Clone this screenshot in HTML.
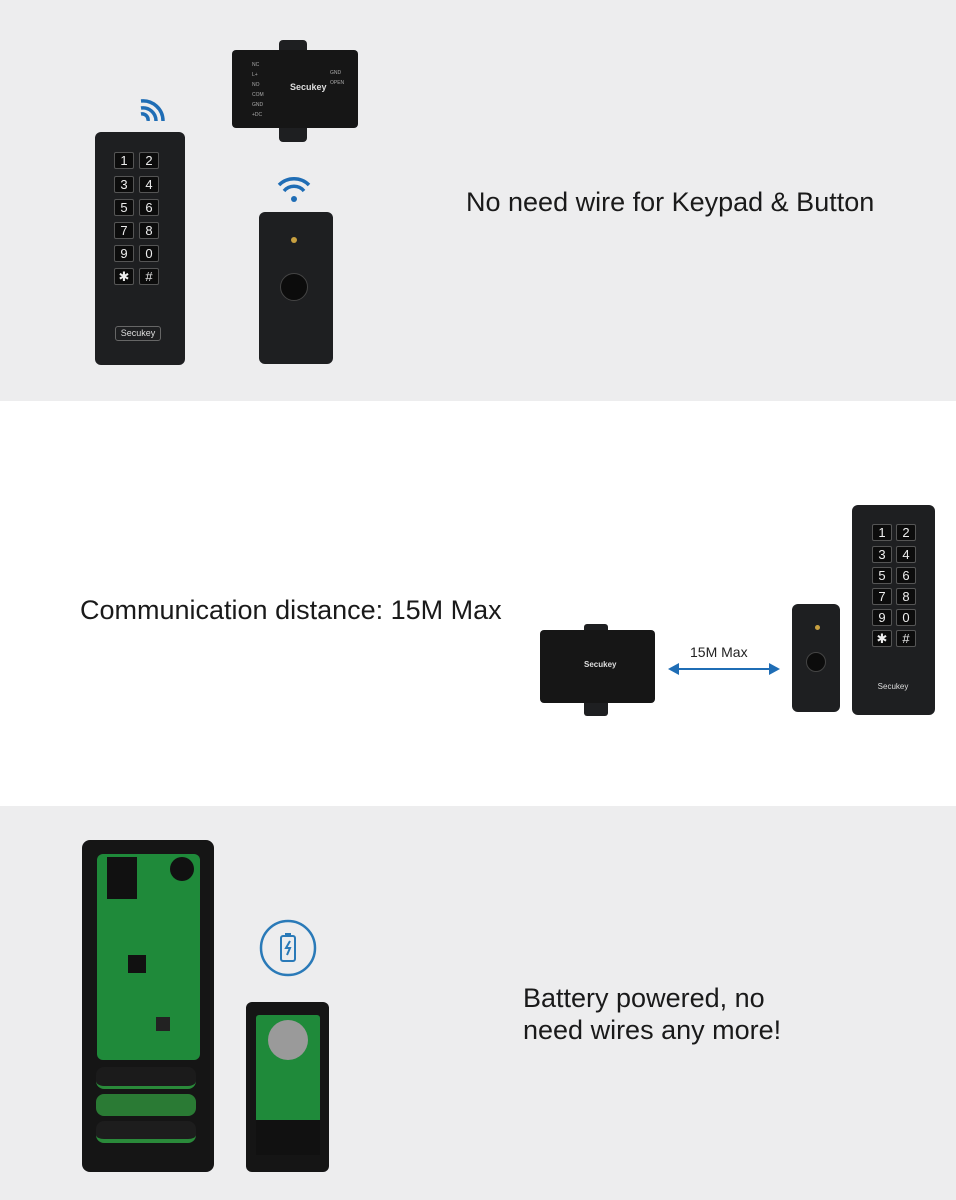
<!DOCTYPE html>
<html><head><meta charset="utf-8"><style>
*{margin:0;padding:0;box-sizing:border-box}
body{width:956px;height:1200px;position:relative;overflow:hidden;font-family:"Liberation Sans",sans-serif;background:#fff}
.a{position:absolute}
.sec{position:absolute;left:0;width:956px}
.blk{background:#1e1f21;border-radius:6px}
.key{position:absolute;width:20px;height:17px;background:#0c0c0c;border:1px solid #555;border-radius:2px;color:#eee;font-size:13px;text-align:center;line-height:15px}
.txt{position:absolute;color:#1a1a1a;font-size:27px;white-space:nowrap}
.pcb{background:#1f8a3a}
</style></head><body>
<div class="sec" style="top:0;height:401px;background:#ededee"></div>
<div class="sec" style="top:806px;height:394px;background:#ededee"></div>

<div class="a blk" style="left:279px;top:40px;width:28px;height:14px;border-radius:4px"></div>
<div class="a blk" style="left:279px;top:124px;width:28px;height:18px;border-radius:4px"></div>
<div class="a blk" style="left:232px;top:50px;width:126px;height:78px;border-radius:4px;background:#161616"></div>
<div class="a" style="left:290px;top:82px;color:#ddd;font-size:9px;font-weight:bold">Secukey</div>
<div class="a" style="left:252px;top:60px;color:#aaa;font-size:5px;line-height:10px">NC<br>L+<br>NO<br>COM<br>GND<br>+DC</div>
<div class="a" style="left:330px;top:68px;color:#aaa;font-size:5px;line-height:10px">GND<br>OPEN</div>
<svg class="a" style="left:137px;top:93px" width="32" height="28" viewBox="0 0 32 28"><g fill="none" stroke="#1f6db5" stroke-width="3.5"><path d="M4 8a20 20 0 0 1 22 20"/><path d="M4 15a13 13 0 0 1 15 13"/><path d="M4 21a6 6 0 0 1 7 7"/></g></svg>
<svg class="a" style="left:276px;top:174px" width="36" height="30" viewBox="0 0 36 30"><g fill="none" stroke="#1f6db5" stroke-width="3.5"><path d="M3 11a21 21 0 0 1 30 0"/><path d="M8 17a13 13 0 0 1 20 0"/></g><circle cx="18" cy="25" r="3" fill="#1f6db5"/></svg>
<div class="a blk" style="left:95px;top:132px;width:90px;height:233px"></div>
<div class="key" style="left:114px;top:152px">1</div><div class="key" style="left:139px;top:152px">2</div>
<div class="key" style="left:114px;top:176px">3</div><div class="key" style="left:139px;top:176px">4</div>
<div class="key" style="left:114px;top:199px">5</div><div class="key" style="left:139px;top:199px">6</div>
<div class="key" style="left:114px;top:222px">7</div><div class="key" style="left:139px;top:222px">8</div>
<div class="key" style="left:114px;top:245px">9</div><div class="key" style="left:139px;top:245px">0</div>
<div class="key" style="left:114px;top:268px">✱</div><div class="key" style="left:139px;top:268px">#</div>
<div class="a" style="left:115px;top:326px;width:46px;height:15px;border:1px solid #666;border-radius:3px;color:#ddd;font-size:9px;text-align:center;line-height:13px">Secukey</div>
<div class="a blk" style="left:259px;top:212px;width:74px;height:152px"></div>
<div class="a" style="left:291px;top:237px;width:6px;height:6px;border-radius:50%;background:#c8a040"></div>
<div class="a" style="left:280px;top:273px;width:28px;height:28px;border-radius:50%;background:#0c0c0c;border:1px solid #444"></div>
<div class="txt" style="left:466px;top:187px">No need wire for Keypad &amp; Button</div>

<div class="txt" style="left:80px;top:595px">Communication distance: 15M Max</div>
<div class="a blk" style="left:584px;top:624px;width:24px;height:10px;border-radius:3px"></div>
<div class="a blk" style="left:584px;top:700px;width:24px;height:16px;border-radius:3px"></div>
<div class="a blk" style="left:540px;top:630px;width:115px;height:73px;border-radius:4px;background:#161616"></div>
<div class="a" style="left:584px;top:660px;color:#ddd;font-size:8px;font-weight:bold">Secukey</div>
<svg class="a" style="left:668px;top:660px" width="112" height="18"><line x1="8" y1="9" x2="104" y2="9" stroke="#1f6db5" stroke-width="2"/><polygon points="0,9 11,3 11,15" fill="#1f6db5"/><polygon points="112,9 101,3 101,15" fill="#1f6db5"/></svg>
<div class="a" style="left:690px;top:644px;font-size:14px;color:#222">15M Max</div>
<div class="a blk" style="left:792px;top:604px;width:48px;height:108px"></div>
<div class="a" style="left:815px;top:625px;width:5px;height:5px;border-radius:50%;background:#c8a040"></div>
<div class="a" style="left:806px;top:652px;width:20px;height:20px;border-radius:50%;background:#0c0c0c;border:1px solid #444"></div>
<div class="a blk" style="left:852px;top:505px;width:83px;height:210px"></div>
<div class="key" style="left:872px;top:524px">1</div><div class="key" style="left:896px;top:524px">2</div>
<div class="key" style="left:872px;top:546px">3</div><div class="key" style="left:896px;top:546px">4</div>
<div class="key" style="left:872px;top:567px">5</div><div class="key" style="left:896px;top:567px">6</div>
<div class="key" style="left:872px;top:588px">7</div><div class="key" style="left:896px;top:588px">8</div>
<div class="key" style="left:872px;top:609px">9</div><div class="key" style="left:896px;top:609px">0</div>
<div class="key" style="left:872px;top:630px">✱</div><div class="key" style="left:896px;top:630px">#</div>
<div class="a" style="left:873px;top:682px;width:40px;height:13px;color:#ddd;font-size:8px;text-align:center">Secukey</div>

<div class="a blk" style="left:82px;top:840px;width:132px;height:332px;border-radius:8px;background:#151515"></div>
<div class="a pcb" style="left:97px;top:854px;width:103px;height:206px;border-radius:6px"></div>
<div class="a" style="left:107px;top:857px;width:30px;height:42px;background:#111"></div>
<div class="a" style="left:170px;top:857px;width:24px;height:24px;border-radius:50%;background:#111"></div>
<div class="a" style="left:128px;top:955px;width:18px;height:18px;background:#111"></div>
<div class="a" style="left:156px;top:1017px;width:14px;height:14px;background:#222"></div>
<div class="a" style="left:96px;top:1067px;width:100px;height:22px;border-radius:8px;background:#1b1b1b;border-bottom:3px solid #2a8a3a"></div>
<div class="a" style="left:96px;top:1094px;width:100px;height:22px;border-radius:8px;background:#2a7a34"></div>
<div class="a" style="left:96px;top:1121px;width:100px;height:22px;border-radius:8px;background:#1d1d1d;border-bottom:4px solid #2a8a3a"></div>
<svg class="a" style="left:259px;top:919px" width="58" height="58"><circle cx="29" cy="29" r="27" fill="none" stroke="#2a7ab8" stroke-width="2.5"/><rect x="22" y="17" width="14" height="25" rx="2" fill="none" stroke="#2a7ab8" stroke-width="2"/><rect x="26" y="14" width="6" height="3" fill="#2a7ab8"/><path d="M31 22l-4 7h4l-3 7" fill="none" stroke="#2a7ab8" stroke-width="2"/></svg>
<div class="a blk" style="left:246px;top:1002px;width:83px;height:170px;border-radius:6px;background:#151515"></div>
<div class="a pcb" style="left:256px;top:1015px;width:64px;height:140px;border-radius:3px"></div>
<div class="a" style="left:268px;top:1020px;width:40px;height:40px;border-radius:50%;background:#9a9a9a"></div>
<div class="a" style="left:256px;top:1120px;width:64px;height:35px;background:#111"></div>
<div class="txt" style="left:523px;top:982px;line-height:32px">Battery powered, no<br>need wires any more!</div>
</body></html>
